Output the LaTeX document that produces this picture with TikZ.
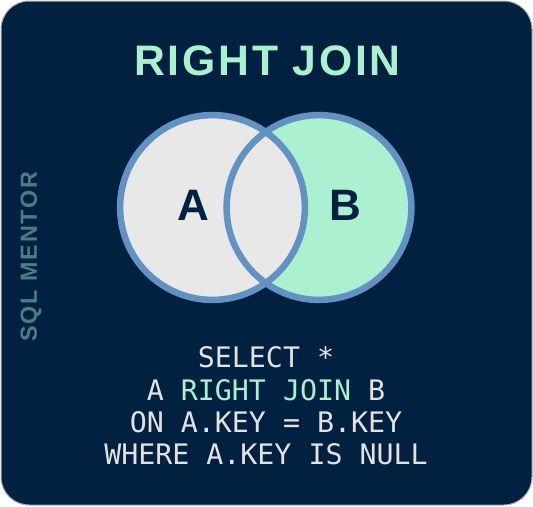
\documentclass[tikz,border=0pt]{standalone}
\usepackage{fontspec}
\setmainfont{Liberation Sans}
\setmonofont{DejaVu Sans Mono}
\definecolor{navy}{HTML}{022141}
\definecolor{mint}{HTML}{AAF0D1}
\definecolor{ringblue}{HTML}{6391C1}
\definecolor{setgray}{HTML}{E8E8E8}
\definecolor{codegray}{HTML}{E2E2E2}
\definecolor{brand}{HTML}{4A7D85}
\begin{document}
\begin{tikzpicture}[x=0.75pt,y=-0.75pt,
  ring/.style={draw=ringblue,line width=4.9pt},
  setlabel/.style={anchor=base,text=navy,font=\bfseries\fontsize{33}{33}\selectfont},
  code/.style={anchor=base,text=codegray,font=\ttfamily\fontsize{21.2}{21.2}\selectfont}]
\useasboundingbox (0,0) rectangle (533,507);
% card
\filldraw[fill=navy,draw=gray!60,line width=0.75pt,rounded corners=21pt] (1,1) rectangle (532,505);
% title
\node[anchor=base,text=mint,font=\bfseries\fontsize{32}{32}\selectfont\addfontfeatures{LetterSpace=6.5}] (title) at (267.5,75.5) {RIGHT JOIN};
% brand
\node[rotate=90,text=brand,font=\bfseries\fontsize{17.5}{17.5}\selectfont\addfontfeatures{LetterSpace=8}] (brand) at (31,256.5) {SQL MENTOR};
% sets
\coordinate (cA) at (212.5,207.5);
\coordinate (cB) at (319,207.5);
\fill[mint] (cB) circle[radius=69.3pt];
\fill[setgray] (cA) circle[radius=69.3pt];
\draw[ring] (cB) circle[radius=69.3pt];
\draw[ring] (cA) circle[radius=69.3pt];
\node[setlabel] (labelA) at (193,220) {A};
\node[setlabel] (labelB) at (345,220) {B};
% query
\node[code] (select) at (266,367) {SELECT *};
\node[code] (join) at (266,400) {A \textcolor{mint}{RIGHT JOIN} B};
\node[code] (on) at (266,432) {ON A.KEY = B.KEY};
\node[code] (where) at (266,464) {WHERE A.KEY IS NULL};
\end{tikzpicture}
\end{document}
